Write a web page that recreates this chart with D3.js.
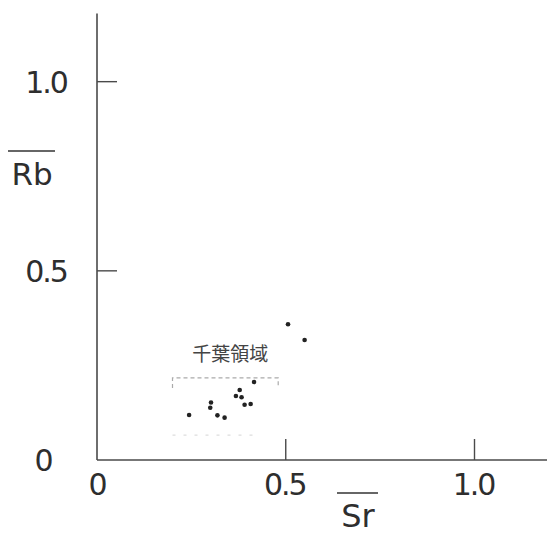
<!DOCTYPE html>
<html>
<head>
<meta charset="utf-8">
<script src="https://cdn.jsdelivr.net/npm/d3@7"></script>
<style>
  html, body { margin: 0; padding: 0; background: #fff; }
  svg text { font-family: "DejaVu Sans", sans-serif; fill: #2e2e2e; }
</style>
</head>
<body>
<svg id="chart" width="547" height="534"></svg>
<script>
// Sr / Rb の比（読み取り値）
const srVals = [0.506, 0.550, 0.416, 0.378, 0.368, 0.383, 0.302, 0.300, 0.391, 0.407, 0.244, 0.319, 0.338];
const rbVals = [0.359, 0.317, 0.206, 0.185, 0.169, 0.166, 0.152, 0.138, 0.146, 0.148, 0.119, 0.118, 0.112];

const xTicks = [0, 0.5, 1.0];
const yTicks = [0, 0.5, 1.0];
const tickLabels = ['0', '0.5', '1.0'];

// 千葉領域の枠 [x0, x1, y0, y1]
const regionBox = [0.20, 0.48, 0.066, 0.217];
const regionLabel = '千葉領域';

const svg = d3.select('#chart');
const x = d3.scaleLinear().domain([0, 1.2]).range([97, 550]);
const y = d3.scaleLinear().domain([0, 1.2]).range([460, 6]);

const axisColor = '#4a4a4a';

// 軸線
svg.append('line')
  .attr('x1', x(0)).attr('x2', x(1.2))
  .attr('y1', y(0)).attr('y2', y(0))
  .attr('stroke', axisColor).attr('stroke-width', 1.6);
svg.append('line')
  .attr('x1', x(0)).attr('x2', x(0))
  .attr('y1', y(0)).attr('y2', y(1.18))
  .attr('stroke', axisColor).attr('stroke-width', 1.6);

// 目盛り
svg.selectAll('.xt').data(xTicks.filter(d => d > 0)).join('line')
  .attr('x1', d => x(d)).attr('x2', d => x(d))
  .attr('y1', y(0)).attr('y2', y(0) - 21)
  .attr('stroke', axisColor).attr('stroke-width', 1.4);
svg.selectAll('.yt').data(yTicks.filter(d => d > 0)).join('line')
  .attr('x1', x(0)).attr('x2', x(0) + 20)
  .attr('y1', d => y(d)).attr('y2', d => y(d))
  .attr('stroke', axisColor).attr('stroke-width', 1.4);

// 目盛りラベル
svg.selectAll('.xl').data(xTicks).join('text')
  .attr('x', d => x(d) + (d === 0 ? 0 : -1))
  .attr('y', 495)
  .attr('text-anchor', 'middle')
  .attr('font-size', 30)
  .attr('letter-spacing', -2)
  .text((d, i) => tickLabels[i]);
svg.selectAll('.yl').data(yTicks).join('text')
  .attr('x', d => d === 0 ? 43 : 46)
  .attr('y', d => y(d) + 11)
  .attr('text-anchor', 'middle')
  .attr('font-size', 30)
  .attr('letter-spacing', -2)
  .text((d, i) => tickLabels[i]);

// 軸タイトル（上線付き）
svg.append('text').attr('x', 32).attr('y', 185)
  .attr('text-anchor', 'middle').attr('font-size', 31).text('Rb');
svg.append('line').attr('x1', 8).attr('x2', 55).attr('y1', 151).attr('y2', 151)
  .attr('stroke', '#333').attr('stroke-width', 1.6);
svg.append('text').attr('x', 358).attr('y', 527)
  .attr('text-anchor', 'middle').attr('font-size', 32).text('Sr');
svg.append('line').attr('x1', 337).attr('x2', 378).attr('y1', 493).attr('y2', 493)
  .attr('stroke', '#333').attr('stroke-width', 1.6);

// 千葉領域（薄い破線の枠）
const [bx0, bx1, by0, by1] = regionBox;
svg.append('path')
  .attr('d', `M${x(bx0)},${y(by1) + 10}V${y(by1)}H${x(bx1)}V${y(by1) + 8}`)
  .attr('fill', 'none').attr('stroke', '#aaa').attr('stroke-width', 1.2)
  .attr('stroke-dasharray', '4,3');
svg.append('line')
  .attr('x1', x(bx0)).attr('x2', x(bx1) - 20)
  .attr('y1', y(by0)).attr('y2', y(by0))
  .attr('stroke', '#ddd').attr('stroke-width', 1.2)
  .attr('stroke-dasharray', '3,8');
svg.append('text')
  .attr('x', x((bx0 + bx1) / 2) + 5)
  .attr('y', y(by1) - 17)
  .attr('text-anchor', 'middle')
  .attr('font-size', 19)
  .style('font-family', '"Noto Sans CJK JP", sans-serif')
  .style('fill', '#444')
  .text(regionLabel);

// データ点
svg.selectAll('circle').data(srVals).join('circle')
  .attr('cx', d => x(d))
  .attr('cy', (d, i) => y(rbVals[i]))
  .attr('r', 2.3)
  .attr('fill', '#222');
</script>
</body>
</html>
